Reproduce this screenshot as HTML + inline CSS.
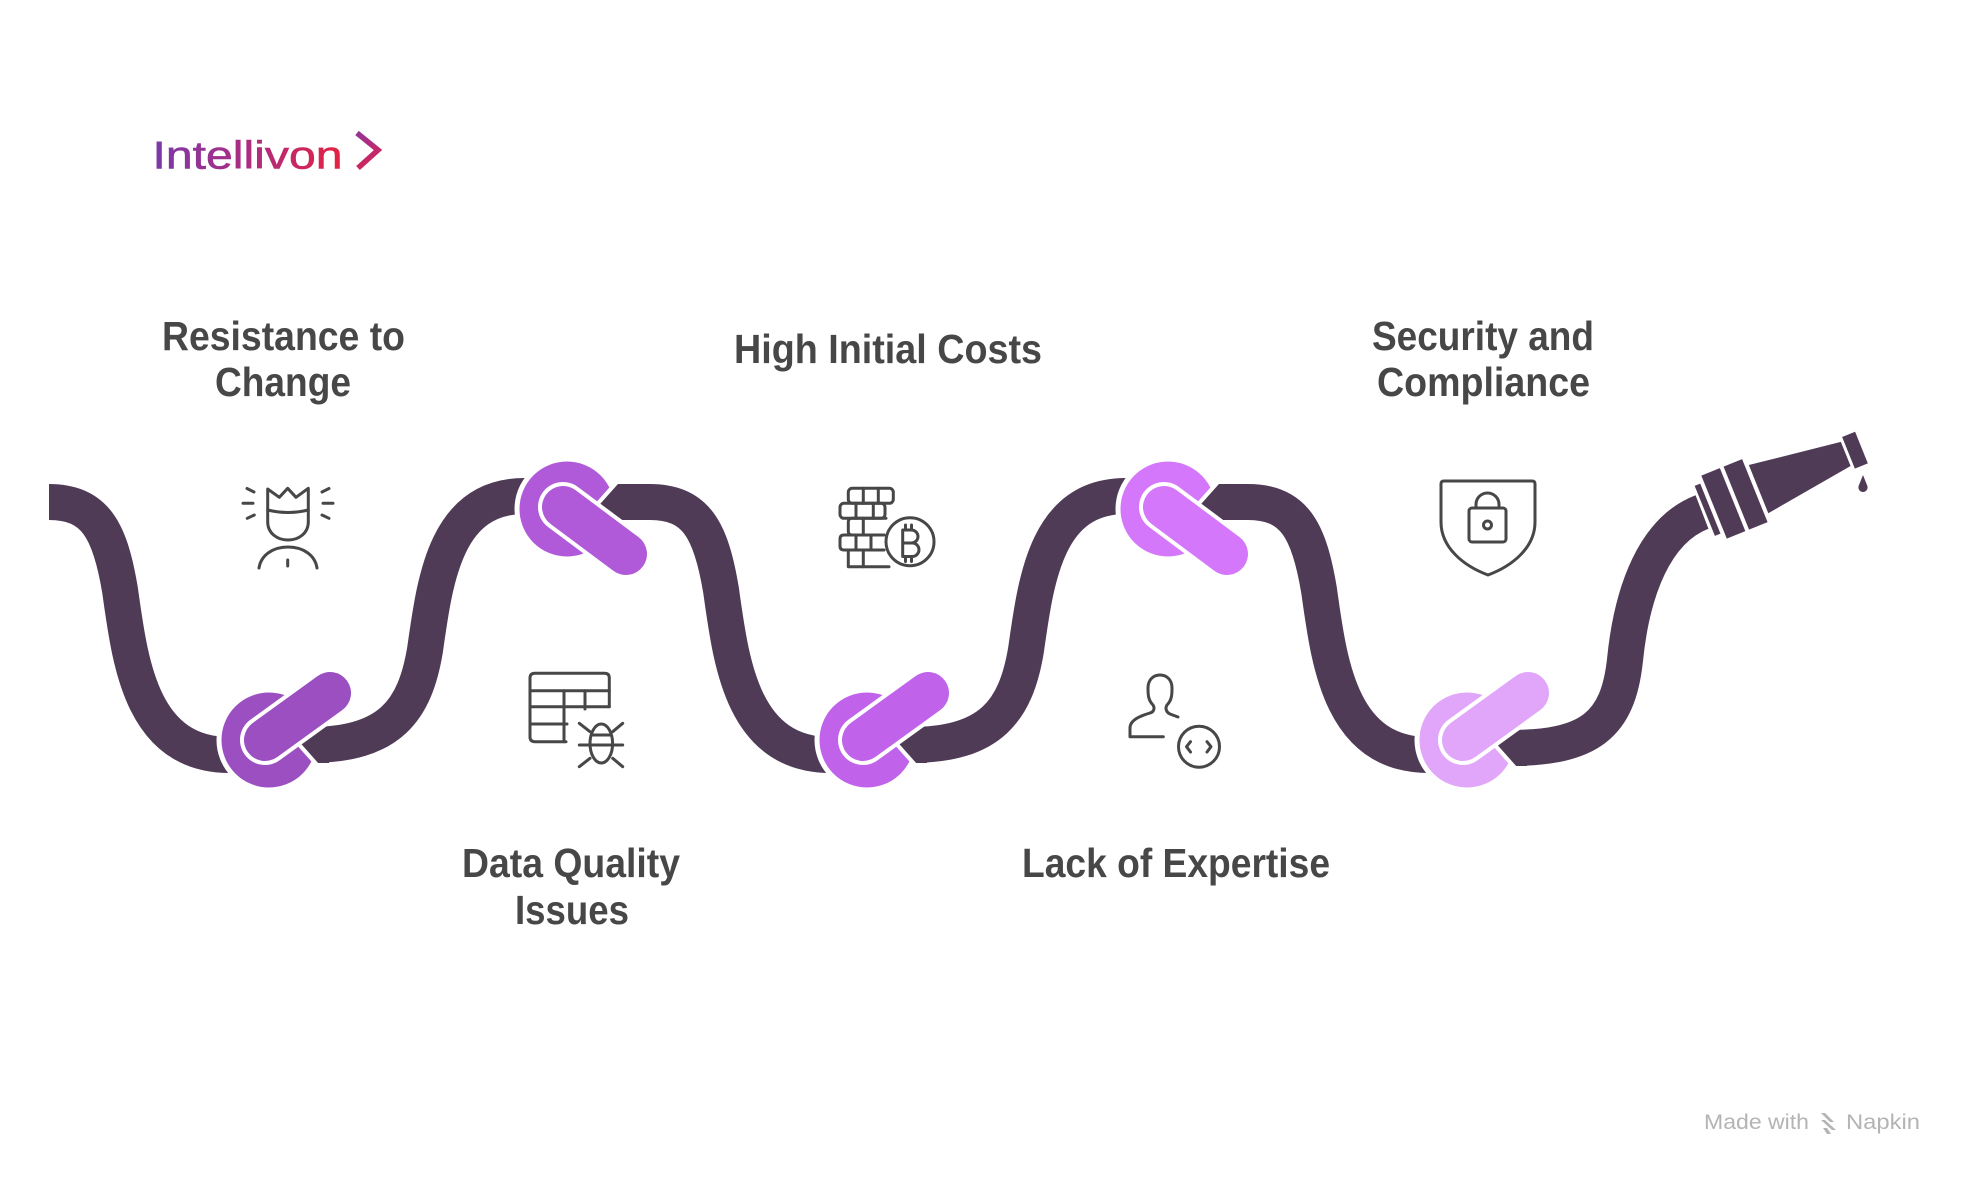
<!DOCTYPE html>
<html>
<head>
<meta charset="utf-8">
<style>
  html, body { margin: 0; padding: 0; background: #ffffff; }
  body { width: 1968px; height: 1177px; overflow: hidden; }
  svg { display: block; }
  .lbl { font-family: "Liberation Sans", Arial, sans-serif; font-weight: 700; font-size: 41px; fill: #474747; }
  .ic { fill: none; stroke: #474747; stroke-width: 3; stroke-linecap: round; stroke-linejoin: round; }
</style>
</head>
<body>
<svg width="1968" height="1177" viewBox="0 0 1968 1177" xmlns="http://www.w3.org/2000/svg">
  <defs>
    <linearGradient id="lg" gradientUnits="userSpaceOnUse" x1="150" y1="0" x2="345" y2="0">
      <stop offset="0" stop-color="#7a3aab"/>
      <stop offset="0.55" stop-color="#b02c7c"/>
      <stop offset="1" stop-color="#e6223f"/>
    </linearGradient>
    <linearGradient id="lg2" gradientUnits="userSpaceOnUse" x1="355" y1="130" x2="380" y2="170">
      <stop offset="0" stop-color="#8d359e"/>
      <stop offset="1" stop-color="#e3224a"/>
    </linearGradient>
  </defs>

  <rect x="0" y="0" width="1968" height="1177" fill="#ffffff"/>

  <!-- Logo -->
  <text x="152.5" y="168.3" font-family="'Liberation Sans', Arial, sans-serif" font-size="38.5" fill="url(#lg)" stroke="url(#lg)" stroke-width="0.6" textLength="190" lengthAdjust="spacingAndGlyphs">Intellivon</text>
  <polyline points="357,133 378,150 358,168" fill="none" stroke="url(#lg2)" stroke-width="5.5" stroke-linejoin="miter"/>

  <!-- Labels -->
  <text class="lbl" x="283.5" y="350" text-anchor="middle" textLength="243" lengthAdjust="spacingAndGlyphs">Resistance to</text>
  <text class="lbl" x="283" y="396" text-anchor="middle" textLength="136" lengthAdjust="spacingAndGlyphs">Change</text>
  <text class="lbl" x="888" y="363" text-anchor="middle" textLength="308" lengthAdjust="spacingAndGlyphs">High Initial Costs</text>
  <text class="lbl" x="1483" y="350" text-anchor="middle" textLength="222" lengthAdjust="spacingAndGlyphs">Security and</text>
  <text class="lbl" x="1483.5" y="396" text-anchor="middle" textLength="213" lengthAdjust="spacingAndGlyphs">Compliance</text>
  <text class="lbl" x="571" y="877" text-anchor="middle" textLength="218" lengthAdjust="spacingAndGlyphs">Data Quality</text>
  <text class="lbl" x="572" y="924" text-anchor="middle" textLength="114" lengthAdjust="spacingAndGlyphs">Issues</text>
  <text class="lbl" x="1176" y="877" text-anchor="middle" textLength="308" lengthAdjust="spacingAndGlyphs">Lack of Expertise</text>

  <!-- Hose -->
  <g fill="none" stroke="#4f3b56" stroke-width="36" stroke-linecap="butt">
    <path d="M 49 502 C 95 502, 110 530, 120 590 C 130 660, 140 755, 230 755 L 250 755"/>
    <path d="M 300 745 L 310 745 C 390 745, 415 710, 425 650 C 435 580, 445 496, 525 496 L 535 496"/>
    <path d="M 600 502 L 650 502 C 696 502, 711 530, 721 590 C 731 660, 741 755, 831 755 L 851 755"/>
    <path d="M 901 745 L 911 745 C 991 745, 1016 710, 1026 650 C 1036 580, 1046 496, 1126 496 L 1136 496"/>
    <path d="M 1198 502 L 1248 502 C 1294 502, 1309 530, 1319 590 C 1329 660, 1339 755, 1429 755 L 1449 755"/>
    <path d="M 1499 748 L 1509 748 C 1590 748, 1618 725, 1625 660 C 1632 590, 1655 530, 1702 512"/>
  </g>

  <!-- Nozzle -->
  <g transform="translate(1702,512) rotate(-22)" fill="#4f3b56">
    <rect x="3" y="-27" width="6" height="54"/>
    <rect x="13" y="-34" width="20" height="68"/>
    <rect x="37" y="-34" width="20" height="68"/>
    <polygon points="61,-26 155,-13 155,13 61,26"/>
    <rect x="158" y="-17" width="14" height="34"/>
  </g>
  <path d="M 1863 475 L 1858.6 486 A 4.6 4.6 0 1 0 1867.4 486 Z" fill="#4f3b56"/>

  <!-- Knots -->
  <!-- bottom 1 (ring 269) -->
  <g>
    <circle cx="269" cy="740" r="50" fill="#9b4fc1" stroke="#ffffff" stroke-width="5"/>
    <polygon points="289,731 329,727 329,763 317,763" fill="#4f3b56"/>
    <line x1="287" y1="731" x2="319" y2="767" stroke="#ffffff" stroke-width="4"/>
    <line x1="265" y1="740" x2="330" y2="693" stroke="#ffffff" stroke-width="50" stroke-linecap="round"/>
    <line x1="265" y1="740" x2="330" y2="693" stroke="#9b4fc1" stroke-width="42" stroke-linecap="round"/>
  </g>
  <!-- top 1 (ring 567) -->
  <g>
    <circle cx="567" cy="509" r="50" fill="#b05ad9" stroke="#ffffff" stroke-width="5"/>
    <polygon points="587,516 615,484 645,484 645,520 587,520" fill="#4f3b56"/>
    <line x1="585" y1="518" x2="617" y2="482" stroke="#ffffff" stroke-width="4"/>
    <line x1="563" y1="507" x2="626" y2="554" stroke="#ffffff" stroke-width="50" stroke-linecap="round"/>
    <line x1="563" y1="507" x2="626" y2="554" stroke="#b05ad9" stroke-width="42" stroke-linecap="round"/>
  </g>
  <!-- bottom 2 (ring 867) -->
  <g>
    <circle cx="867" cy="740" r="50" fill="#c063ea" stroke="#ffffff" stroke-width="5"/>
    <polygon points="887,731 927,727 927,763 915,763" fill="#4f3b56"/>
    <line x1="885" y1="731" x2="917" y2="767" stroke="#ffffff" stroke-width="4"/>
    <line x1="863" y1="740" x2="928" y2="693" stroke="#ffffff" stroke-width="50" stroke-linecap="round"/>
    <line x1="863" y1="740" x2="928" y2="693" stroke="#c063ea" stroke-width="42" stroke-linecap="round"/>
  </g>
  <!-- top 2 (ring 1168) -->
  <g>
    <circle cx="1168" cy="509" r="50" fill="#d477fa" stroke="#ffffff" stroke-width="5"/>
    <polygon points="1188,516 1216,484 1246,484 1246,520 1188,520" fill="#4f3b56"/>
    <line x1="1186" y1="518" x2="1218" y2="482" stroke="#ffffff" stroke-width="4"/>
    <line x1="1164" y1="507" x2="1227" y2="554" stroke="#ffffff" stroke-width="50" stroke-linecap="round"/>
    <line x1="1164" y1="507" x2="1227" y2="554" stroke="#d477fa" stroke-width="42" stroke-linecap="round"/>
  </g>
  <!-- bottom 3 (ring 1467) -->
  <g>
    <circle cx="1467" cy="740" r="50" fill="#e1a6fa" stroke="#ffffff" stroke-width="5"/>
    <polygon points="1487,734 1527,730 1527,766 1515,766" fill="#4f3b56"/>
    <line x1="1485" y1="734" x2="1517" y2="770" stroke="#ffffff" stroke-width="4"/>
    <line x1="1463" y1="740" x2="1528" y2="693" stroke="#ffffff" stroke-width="50" stroke-linecap="round"/>
    <line x1="1463" y1="740" x2="1528" y2="693" stroke="#e1a6fa" stroke-width="42" stroke-linecap="round"/>
  </g>

  <!-- Icon: crown person -->
  <g class="ic">
    <path d="M 267.7 489 L 279.3 497.3 L 287.7 488.3 L 296 497.3 L 308.3 488.3 L 308.3 522 C 308.3 533, 299 540, 288 540 C 277 540, 267.7 533, 267.7 522 Z"/>
    <path d="M 267.7 510 Q 288 515 308.3 510"/>
    <path d="M 259 568 C 261 555, 273 547, 288 547 C 303 547, 315 555, 317 568"/>
    <path d="M 287.7 560 L 287.7 566"/>
    <path d="M 247 488.5 L 254 492"/>
    <path d="M 243 503.3 L 253 503.3"/>
    <path d="M 247.3 518.3 L 254.3 515"/>
    <path d="M 329 488.5 L 322 492"/>
    <path d="M 333 503.3 L 323 503.3"/>
    <path d="M 329 518.3 L 322 515"/>
  </g>

  <!-- Icon: table with bug -->
  <g class="ic">
    <path d="M 566 741.7 H 535 Q 530 741.7 530 737 V 678 Q 530 673.3 535 673.3 H 604.5 Q 609.3 673.3 609.3 678 V 706.7"/>
    <path d="M 530 690.7 H 609.3"/>
    <path d="M 530 706.7 H 609.3"/>
    <path d="M 530 724 H 567"/>
    <path d="M 564 690.7 V 741.7"/>
    <path d="M 585 690.7 V 709"/>
    <ellipse cx="601.3" cy="743.5" rx="11.3" ry="19.5"/>
    <path d="M 579.3 745 H 622.7"/>
    <path d="M 592 735 H 610.7"/>
    <path d="M 579.3 723.3 L 590 731.7"/>
    <path d="M 622.7 723.3 L 612.7 731.7"/>
    <path d="M 579.3 766.7 L 590 758.3"/>
    <path d="M 622.7 766.7 L 612.7 758.3"/>
  </g>

  <!-- Icon: coins with bitcoin -->
  <g class="ic">
    <rect x="848.3" y="488.3" width="45" height="15" rx="4"/>
    <path d="M 863.3 488.3 V 503.3 M 878.3 488.3 V 503.3"/>
    <rect x="840" y="503.3" width="45" height="15" rx="4"/>
    <path d="M 856 503.3 V 518.3 M 873.3 503.3 V 518.3"/>
    <path d="M 886 518.3 H 852 Q 848.3 518.3 848.3 522 V 531.3 Q 848.3 535 852 535 H 884"/>
    <path d="M 863.3 518.3 V 535"/>
    <path d="M 884 535 H 844 Q 840 535 840 539 V 546 Q 840 550 844 550 H 884"/>
    <path d="M 856 535 V 550 M 871 535 V 550"/>
    <path d="M 848.3 550 V 566.7 H 889"/>
    <path d="M 863.3 550 V 566.7"/>
    <circle cx="910" cy="541.7" r="24"/>
    <path d="M 902.7 530 V 556.5 H 913 A 6.8 6.8 0 0 0 913 543 H 902.7 M 902.7 530 H 911.5 A 6.5 6.5 0 0 1 911.5 543"/>
    <path d="M 905.5 525 V 530 M 911.5 525 V 530 M 905.5 556.5 V 561.5 M 911.5 556.5 V 561.5"/>
  </g>

  <!-- Icon: person with code -->
  <g class="ic">
    <path d="M 1163.3 736.7 H 1130 V 728 C 1130 720, 1140 716, 1150 713 C 1154 712, 1155 708, 1153 705 C 1148 700, 1148 694, 1148 688 C 1148 680, 1153 675, 1160 675 C 1167 675, 1172 680, 1172 688 C 1172 694, 1172 700, 1167 705 C 1165 708, 1166 712, 1170 714 L 1178 717"/>
    <circle cx="1199" cy="746.7" r="20.5"/>
    <path d="M 1190.5 741.7 L 1186.5 746.7 L 1190.5 752"/>
    <path d="M 1207 741.7 L 1211 746.7 L 1207 752"/>
  </g>

  <!-- Icon: shield lock -->
  <g class="ic">
    <path d="M 1444 481 L 1532 481 Q 1535 481 1535 484 L 1535 522 C 1535 548, 1512 566, 1488 575 C 1464 566, 1441 548, 1441 522 L 1441 484 Q 1441 481 1444 481 Z"/>
    <rect x="1469" y="508" width="37" height="34" rx="3"/>
    <path d="M 1476 508 V 504.5 A 11.5 11.5 0 0 1 1499 504.5 V 508"/>
    <circle cx="1487.5" cy="525" r="4"/>
  </g>

  <!-- Footer -->
  <text x="1704" y="1129" font-family="'Liberation Sans', Arial, sans-serif" font-size="21" fill="#b4b4b4" textLength="105" lengthAdjust="spacingAndGlyphs">Made with</text>
  <g fill="#b4b4b4">
    <polygon points="1821,1113 1825,1113 1834,1122 1830,1122"/>
    <polygon points="1821,1120 1825,1120 1836,1130 1832,1130"/>
    <polygon points="1823,1128 1827,1128 1831,1134 1827,1134"/>
  </g>
  <text x="1846" y="1129" font-family="'Liberation Sans', Arial, sans-serif" font-size="21" fill="#b4b4b4" textLength="74" lengthAdjust="spacingAndGlyphs">Napkin</text>
</svg>
</body>
</html>
